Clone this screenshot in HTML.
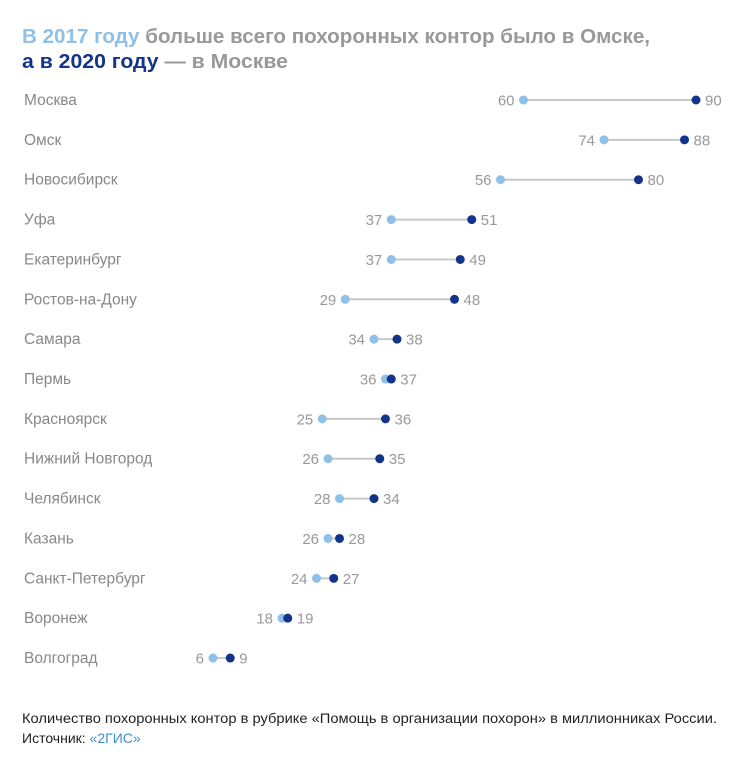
<!DOCTYPE html>
<html><head><meta charset="utf-8"><style>
body{margin:0;background:#fff;font-family:"Liberation Sans",sans-serif;}
svg{display:block}
</style></head><body>
<svg width="753" height="767">
<text x="22" y="43" font-size="20.5" font-weight="bold" fill="#999" textLength="628" lengthAdjust="spacingAndGlyphs"><tspan fill="#8ec0e8">В 2017 году</tspan> больше всего похоронных контор было в Омске,</text>
<text x="22" y="68" font-size="20.5" font-weight="bold" fill="#999" textLength="266" lengthAdjust="spacingAndGlyphs"><tspan fill="#12348a">а в 2020 году</tspan> — в Москве</text>
<g id="rows"></g>
<text x="22" y="723" font-size="14" fill="#222" textLength="695" lengthAdjust="spacingAndGlyphs">Количество похоронных контор в рубрике «Помощь в организации похорон» в миллионниках России.</text>
<text x="22" y="743" font-size="14" fill="#222">Источник: <tspan fill="#3a8fd0">«2ГИС»</tspan></text>
</svg>
<script>
const cities=["Москва","Омск","Новосибирск","Уфа","Екатеринбург","Ростов-на-Дону","Самара","Пермь","Красноярск","Нижний Новгород","Челябинск","Казань","Санкт-Петербург","Воронеж","Волгоград"];
const v2017=[60,74,56,37,37,29,34,36,25,26,28,26,24,18,6];
const v2020=[90,88,80,51,49,48,38,37,36,35,34,28,27,19,9];
const xs=v=>178.5+v*5.75;
const ys=i=>100+i*39.86;
const NS="http://www.w3.org/2000/svg";
const g=document.getElementById("rows");
function mk(t,a){const e=document.createElementNS(NS,t);for(const k in a)e.setAttribute(k,a[k]);g.appendChild(e);return e;}
cities.forEach((c,i)=>{
 const y=ys(i),a=xs(v2017[i]),b=xs(v2020[i]);
 const lab=mk("text",{x:24,y:y+5,"font-size":15.5,fill:"#888"});lab.textContent=c;
 
 
 const ln=mk("line",{x1:a,x2:b,y1:y,y2:y,stroke:"#c8c8c8","stroke-width":2});
 
 
 const d1=mk("circle",{cx:a,cy:y,r:4.5,fill:"#8ec0e8"});
 
 
 const d2=mk("circle",{cx:b,cy:y,r:4.5,fill:"#12348a"});
 
 
 const t1=mk("text",{x:a-9,y:y+5.5,"font-size":15,fill:"#999","text-anchor":"end"});t1.textContent=v2017[i];
 
 
 const t2=mk("text",{x:b+9,y:y+5.5,"font-size":15,fill:"#999"});t2.textContent=v2020[i];
 
 
});
</script>
</body></html>
